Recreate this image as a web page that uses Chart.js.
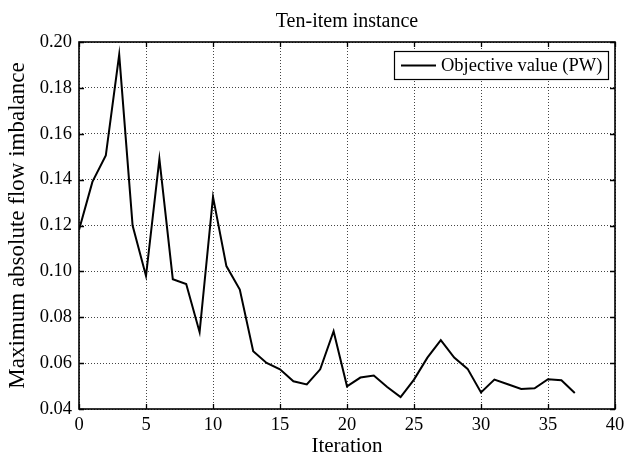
<!DOCTYPE html>
<html><head><meta charset="utf-8">
<script src="https://cdn.jsdelivr.net/npm/chart.js@4.4.0/dist/chart.umd.min.js"></script>
<style>html,body{margin:0;padding:0;background:#fff}</style>
</head><body>
<canvas id="c" width="626" height="456"></canvas>
<script>
const iterations = [0,1,2,3,4,5,6,7,8,9,10,11,12,13,14,15,16,17,18,19,20,21,22,23,24,25,26,27,28,29,30,31,32,33,34,35,36,37];
const objectiveValues = [0.118,0.139,0.1505,0.1945,0.120,0.098,0.149,0.0966,0.0945,0.0735,0.1325,0.1023,0.0921,0.0652,0.0601,0.0573,0.0521,0.0507,0.0573,0.0739,0.0499,0.0537,0.0546,0.0496,0.0452,0.0528,0.0624,0.0700,0.0624,0.0575,0.0472,0.0528,0.0508,0.0487,0.0490,0.0530,0.0525,0.0470];
const xTicks = [0,5,10,15,20,25,30,35,40];
const yTicks = [0.04,0.06,0.08,0.10,0.12,0.14,0.16,0.18,0.20];
const titleText = 'Ten-item instance';
const xTitle = 'Iteration';
const yTitle = 'Maximum absolute flow imbalance';
const seriesLabel = 'Objective value (PW)';

const FONT = "'Liberation Serif', 'Times New Roman', serif";

const frame = {
  id: 'frame',
  afterDraw(chart) {
    const ctx = chart.ctx, a = chart.chartArea;
    const xs = chart.scales.x, ys = chart.scales.y;
    ctx.save();
    ctx.strokeStyle = '#000';
    ctx.lineWidth = 1.3;
    ctx.beginPath();
    xTicks.forEach(v => {
      const px = Math.round(xs.getPixelForValue(v)) + 0.5;
      ctx.moveTo(px, a.bottom); ctx.lineTo(px, a.bottom - 5);
      ctx.moveTo(px, a.top); ctx.lineTo(px, a.top + 5);
    });
    yTicks.forEach(v => {
      const py = Math.round(ys.getPixelForValue(v)) + 0.5;
      ctx.moveTo(a.left, py); ctx.lineTo(a.left + 5, py);
      ctx.moveTo(a.right, py); ctx.lineTo(a.right - 5, py);
    });
    ctx.stroke();
    ctx.lineWidth = 1.6;
    ctx.strokeRect(a.left, a.top, a.right - a.left, a.bottom - a.top);
    // legend
    const bx = a.right - 221, by = a.top + 9, bw = 214, bh = 28;
    ctx.fillStyle = '#fff';
    ctx.fillRect(bx, by, bw, bh);
    ctx.lineWidth = 1.2;
    ctx.strokeRect(bx + 0.5, by + 0.5, bw, bh);
    ctx.lineWidth = 2;
    ctx.beginPath();
    ctx.moveTo(bx + 7, by + bh / 2 + 0.5); ctx.lineTo(bx + 42, by + bh / 2 + 0.5);
    ctx.stroke();
    ctx.fillStyle = '#000';
    ctx.font = '18.5px ' + FONT;
    ctx.textBaseline = 'middle';
    ctx.textAlign = 'left';
    ctx.fillText(seriesLabel, bx + 47, by + bh / 2 + 1);
    ctx.restore();
  }
};

new Chart(document.getElementById('c'), {
  type: 'line',
  data: {
    labels: iterations,
    datasets: [{
      label: seriesLabel,
      data: iterations.map((x, i) => ({x: x, y: objectiveValues[i]})),
      borderColor: '#000',
      borderWidth: 2,
      pointRadius: 0,
      tension: 0,
      fill: false
    }]
  },
  options: {
    responsive: false,
    devicePixelRatio: 1,
    animation: false,
    layout: { padding: { left: 0, right: 11, top: 0, bottom: 0 } },
    plugins: {
      legend: { display: false },
      tooltip: { enabled: false },
      title: {
        display: true,
        fullSize: false,
        text: titleText,
        color: '#000',
        font: { family: FONT, size: 20, weight: 'normal', lineHeight: 1.2 },
        padding: { top: 10, bottom: 8 }
      }
    },
    scales: {
      x: {
        type: 'linear',
        min: 0, max: 40,
        afterBuildTicks(s) { s.ticks = xTicks.map(v => ({value: v})); },
        afterFit(s) { s.height = 47; s.paddingLeft = 0; s.paddingRight = 0; },
        ticks: { color: '#000', font: { family: FONT, size: 18.5 }, padding: 5, maxRotation: 0,
                 callback: v => String(v) },
        grid: { color: '#444', lineWidth: 1, drawTicks: false },
        border: { display: false, dash: [1, 2] },
        title: { display: true, text: xTitle, color: '#000',
                 font: { family: FONT, size: 21, lineHeight: 0.9 }, padding: { top: 0, bottom: 0 } }
      },
      y: {
        type: 'linear',
        min: 0.04, max: 0.20,
        afterBuildTicks(s) { s.ticks = yTicks.map(v => ({value: v})); },
        afterFit(s) { s.width = 79; s.paddingTop = 0; s.paddingBottom = 0; },
        ticks: { color: '#000', font: { family: FONT, size: 18.5 }, padding: 7,
                 callback: v => Number(v).toFixed(2) },
        grid: { color: '#444', lineWidth: 1, drawTicks: false },
        border: { display: false, dash: [1, 2] },
        title: { display: true, text: yTitle, color: '#000',
                 font: { family: FONT, size: 23, lineHeight: 1.2 }, padding: { top: 4, bottom: 0 } }
      }
    }
  },
  plugins: [frame]
});
</script>
</body></html>
